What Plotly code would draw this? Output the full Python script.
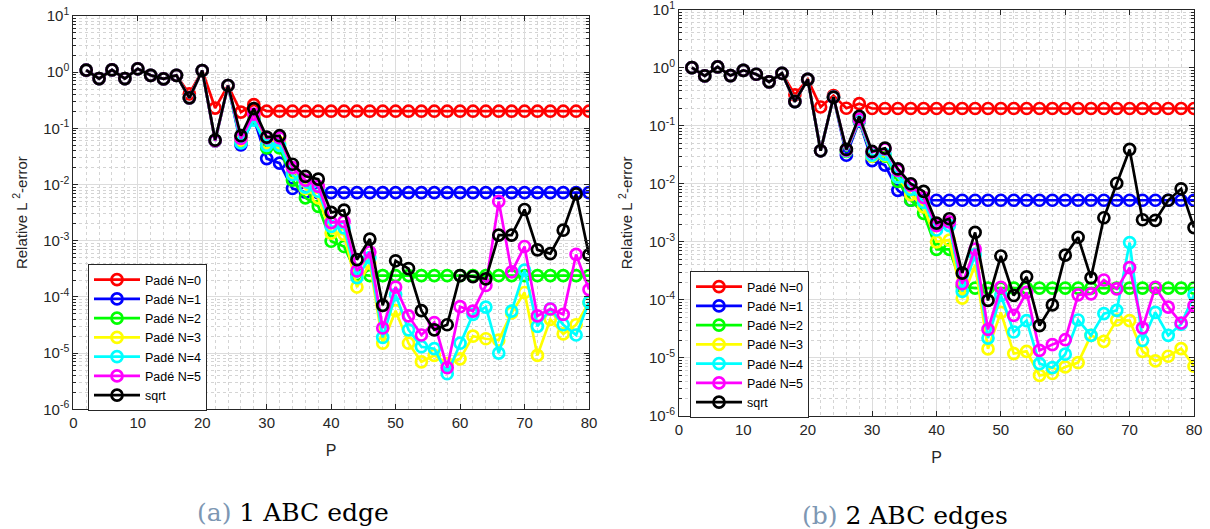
import plotly.graph_objects as go

P = list(range(2, 81, 2))

names = ["Padé N=0", "Padé N=1", "Padé N=2", "Padé N=3", "Padé N=4", "Padé N=5", "sqrt"]
colors = ["#ff0000", "#0000ff", "#00ff00", "#ffff00", "#00ffff", "#ff00ff", "#000000"]

# ---------------- (a) 1 ABC edge ----------------
a_n0 = [1.09, 0.77, 1.1, 0.77, 1.15, 0.88, 0.76, 0.88, 0.41, 1.07, 0.23, 0.58, 0.195, 0.265,
        0.202, 0.202, 0.202, 0.202, 0.202, 0.202, 0.202, 0.202, 0.202, 0.202, 0.202, 0.202, 0.202,
        0.202, 0.202, 0.202, 0.202, 0.202, 0.202, 0.202, 0.202, 0.202, 0.202, 0.202, 0.202, 0.202]
a_n1 = [1.09, 0.77, 1.1, 0.77, 1.15, 0.88, 0.76, 0.88, 0.35, 1.07, 0.06, 0.58, 0.051, 0.15,
        0.029, 0.024, 0.0085, 0.0073, 0.0072, 0.0072, 0.0072, 0.0072, 0.0072, 0.0072, 0.0072, 0.0072,
        0.0072, 0.0072, 0.0072, 0.0072, 0.0072, 0.0072, 0.0072, 0.0072, 0.0072, 0.0072, 0.0072, 0.0072,
        0.0072, 0.0072]
a_n2 = [1.09, 0.77, 1.1, 0.77, 1.15, 0.88, 0.76, 0.88, 0.35, 1.07, 0.06, 0.58, 0.058, 0.155,
        0.045, 0.045, 0.012, 0.0058, 0.0041, 0.00098, 0.00079, 0.00025, 0.00024, 0.00024, 0.00024,
        0.00024, 0.00024, 0.00024, 0.00024, 0.00024, 0.00024, 0.00024, 0.00024, 0.00024, 0.00024,
        0.00024, 0.00024, 0.00024, 0.00024, 0.00024]
a_n3 = [1.09, 0.77, 1.1, 0.77, 1.15, 0.88, 0.76, 0.88, 0.35, 1.07, 0.06, 0.58, 0.062, 0.165,
        0.055, 0.055, 0.016, 0.0085, 0.0058, 0.00137, 0.0013, 0.00015, 0.0004, 1.5e-5, 5.7e-5,
        1.5e-5, 7.0e-6, 9.1e-6, 6.5e-6, 7.9e-6, 2.0e-5, 1.8e-5, 1.7e-5, 5.2e-5, 1.2e-4, 9.1e-6,
        4.0e-5, 2.2e-5, 3.2e-5, 7.9e-5]
a_n4 = [1.09, 0.77, 1.1, 0.77, 1.15, 0.88, 0.76, 0.88, 0.35, 1.07, 0.06, 0.58, 0.055, 0.14,
        0.05, 0.05, 0.015, 0.009, 0.0076, 0.0018, 0.0017, 2.2e-4, 5e-4, 1.9e-5, 1.1e-4, 2.6e-5,
        1.3e-5, 1.2e-5, 4.3e-6, 1.5e-5, 4.9e-5, 6.6e-5, 1.0e-5, 5.6e-5, 3.0e-4, 3.0e-5, 6.1e-5,
        3.2e-5, 2.1e-5, 8.1e-5]
a_n5 = [1.09, 0.77, 1.1, 0.77, 1.15, 0.88, 0.76, 0.88, 0.35, 1.07, 0.06, 0.58, 0.066, 0.18,
        0.068, 0.068, 0.02, 0.012, 0.0093, 0.0021, 0.0022, 2.9e-4, 6.3e-4, 2.8e-5, 1.5e-4, 4.6e-5,
        2.1e-5, 3.5e-5, 5.5e-6, 6.7e-5, 5.6e-5, 1.6e-4, 5.0e-3, 2.8e-4, 7.9e-4, 4.6e-5, 6.1e-5,
        4.9e-5, 5.7e-4, 1.35e-4]
a_sqrt = [1.09, 0.77, 1.1, 0.77, 1.15, 0.88, 0.76, 0.88, 0.35, 1.07, 0.062, 0.58, 0.074, 0.225,
          0.07, 0.074, 0.023, 0.014, 0.0125, 0.0032, 0.0035, 4.6e-4, 1.07e-3, 7.1e-5, 4.4e-4,
          3.2e-4, 5.7e-5, 2.6e-5, 3.2e-5, 2.4e-4, 2.3e-4, 2.1e-4, 1.26e-3, 1.26e-3, 3.6e-3, 6.9e-4,
          5.9e-4, 1.54e-3, 6.8e-3, 5.6e-4]

# ---------------- (b) 2 ABC edges ----------------
b_n0 = [1.0, 0.72, 1.03, 0.73, 0.9, 0.77, 0.57, 0.8, 0.34, 0.63, 0.21, 0.33, 0.2, 0.24,
        0.198, 0.198, 0.198, 0.198, 0.198, 0.198, 0.198, 0.198, 0.198, 0.198, 0.198, 0.198, 0.198,
        0.198, 0.198, 0.198, 0.198, 0.198, 0.198, 0.198, 0.198, 0.198, 0.198, 0.198, 0.198, 0.198]
b_n1 = [1.0, 0.72, 1.03, 0.73, 0.9, 0.77, 0.57, 0.8, 0.26, 0.63, 0.037, 0.31, 0.031, 0.12,
        0.025, 0.021, 0.0077, 0.0052, 0.0052, 0.0052, 0.0052, 0.0052, 0.0052, 0.0052, 0.0052,
        0.0052, 0.0052, 0.0052, 0.0052, 0.0052, 0.0052, 0.0052, 0.0052, 0.0052, 0.0052, 0.0052,
        0.0052, 0.0052, 0.0052, 0.0052]
b_n2 = [1.0, 0.72, 1.03, 0.73, 0.9, 0.77, 0.57, 0.8, 0.26, 0.63, 0.037, 0.31, 0.036, 0.125,
        0.03, 0.03, 0.011, 0.0052, 0.0031, 7.4e-4, 7.4e-4, 1.7e-4, 1.6e-4, 1.6e-4, 1.6e-4, 1.6e-4,
        1.6e-4, 1.6e-4, 1.6e-4, 1.6e-4, 1.6e-4, 1.6e-4, 1.6e-4, 1.6e-4, 1.6e-4, 1.6e-4, 1.6e-4,
        1.6e-4, 1.6e-4, 1.6e-4]
b_n3 = [1.0, 0.72, 1.03, 0.73, 0.9, 0.77, 0.57, 0.8, 0.26, 0.63, 0.037, 0.31, 0.037, 0.125,
        0.03, 0.031, 0.013, 0.0065, 0.004, 1.0e-3, 1.07e-3, 1.07e-4, 4e-4, 1.43e-5, 6.1e-5,
        1.19e-5, 1.3e-5, 5.0e-6, 5.4e-6, 7.0e-6, 8.3e-6, 2.45e-5, 1.93e-5, 4.5e-5, 4.4e-5, 1.3e-5,
        8.9e-6, 1.07e-5, 1.45e-5, 7.2e-6]
b_n4 = [1.0, 0.72, 1.03, 0.73, 0.9, 0.77, 0.57, 0.8, 0.26, 0.63, 0.037, 0.31, 0.037, 0.125,
        0.031, 0.032, 0.013, 0.008, 0.0048, 1.6e-3, 1.9e-3, 1.4e-4, 6e-4, 2.2e-5, 1.2e-4, 2.8e-5,
        4.4e-5, 8.0e-6, 6.8e-6, 1.16e-5, 4.5e-5, 2.45e-5, 5.8e-5, 6.6e-5, 9.7e-4, 2.0e-5, 6.1e-5,
        2.45e-5, 3.8e-5, 1.22e-4]
b_n5 = [1.0, 0.72, 1.03, 0.73, 0.9, 0.77, 0.57, 0.8, 0.26, 0.63, 0.037, 0.31, 0.038, 0.13,
        0.035, 0.04, 0.017, 0.0095, 0.0058, 1.9e-3, 2.2e-3, 1.9e-4, 7.5e-4, 3.1e-5, 1.65e-4, 5.4e-5,
        1.35e-4, 1.35e-5, 1.7e-5, 2.06e-5, 1.22e-4, 1.27e-4, 2.2e-4, 1.55e-4, 3.6e-4, 3.3e-5,
        1.65e-4, 7.5e-5, 4.0e-5, 8.0e-5]
b_sqrt = [1.0, 0.72, 1.03, 0.73, 0.9, 0.77, 0.57, 0.8, 0.26, 0.63, 0.037, 0.31, 0.039, 0.145,
          0.036, 0.041, 0.018, 0.01, 0.0074, 2.1e-3, 2.5e-3, 2.9e-4, 1.45e-3, 9.8e-5, 5.7e-4,
          1.19e-4, 2.5e-4, 3.6e-5, 8.2e-5, 5.9e-4, 1.2e-3, 2.4e-4, 2.6e-3, 0.0102, 0.039, 2.4e-3,
          2.35e-3, 5.2e-3, 8.2e-3, 1.76e-3]

series_a = [a_n0, a_n1, a_n2, a_n3, a_n4, a_n5, a_sqrt]
series_b = [b_n0, b_n1, b_n2, b_n3, b_n4, b_n5, b_sqrt]

ytick_vals = [1e-6, 1e-5, 1e-4, 1e-3, 1e-2, 1e-1, 1e0, 1e1]
ytick_text = ["10<sup>-6</sup>", "10<sup>-5</sup>", "10<sup>-4</sup>", "10<sup>-3</sup>",
              "10<sup>-2</sup>", "10<sup>-1</sup>", "10<sup>0</sup>", "10<sup>1</sup>"]
xtick_vals = [0, 10, 20, 30, 40, 50, 60, 70, 80]

W, H = 1210, 529
fig = go.Figure()

for i, (nm, c) in enumerate(zip(names, colors)):
    fig.add_trace(go.Scatter(x=P, y=series_a[i], name=nm, mode="lines+markers",
                             line=dict(color=c, width=2.7),
                             marker=dict(symbol="circle-open", size=11, line=dict(color=c, width=2.7)),
                             xaxis="x", yaxis="y", legend="legend"))
for i, (nm, c) in enumerate(zip(names, colors)):
    fig.add_trace(go.Scatter(x=P, y=series_b[i], name=nm, mode="lines+markers",
                             line=dict(color=c, width=2.7),
                             marker=dict(symbol="circle-open", size=11, line=dict(color=c, width=2.7)),
                             xaxis="x2", yaxis="y2", legend="legend2"))

axcol = "#262626"
fam = "Liberation Sans, Arial, sans-serif"
tickfont = dict(family=fam, size=15, color=axcol)

def xax(domain, anchor):
    return dict(domain=domain, anchor=anchor, range=[0, 80], tickvals=xtick_vals,
                showline=True, linecolor=axcol, linewidth=1, mirror="allticks",
                ticks="inside", ticklen=5, tickcolor=axcol, tickfont=tickfont,
                ticklabeloverflow="allow",
                showgrid=True, gridcolor="#dcdcdc", gridwidth=1, zeroline=False,
                minor=dict(dtick=2, showgrid=True, gridcolor="#d4d4d4", griddash="dot", ticks=""),
                title=dict(text="P", font=dict(family=fam, size=16, color=axcol), standoff=14),
                automargin=False)

def yax(domain, anchor):
    return dict(domain=domain, anchor=anchor, type="log", range=[-6, 1],
                tickvals=ytick_vals, ticktext=ytick_text,
                showline=True, linecolor=axcol, linewidth=1, mirror="allticks",
                ticks="inside", ticklen=5, tickcolor=axcol, tickfont=tickfont,
                ticklabeloverflow="allow",
                showgrid=True, gridcolor="#dcdcdc", gridwidth=1, zeroline=False,
                minor=dict(dtick="D1", showgrid=True, gridcolor="#d4d4d4", griddash="dot",
                           ticks="inside", ticklen=3, tickcolor=axcol),
                title=dict(text="Relative L <sup>2</sup>-error",
                           font=dict(family=fam, size=15, color=axcol), standoff=12),
                automargin=False)

legstyle = dict(bgcolor="white", bordercolor=axcol, borderwidth=1,
                font=dict(family=fam, size=12.5, color="#000000"),
                xanchor="left", yanchor="top", tracegroupgap=0, itemwidth=46)

fig.update_layout(
    width=W, height=H, margin=dict(l=0, r=0, t=0, b=0),
    paper_bgcolor="white", plot_bgcolor="white",
    xaxis=xax([73.3 / W, 589 / W], "y"),
    yaxis=yax([1 - 409.3 / H, 1 - 16 / H], "x"),
    xaxis2=xax([679 / W, 1194 / W], "y2"),
    yaxis2=yax([1 - 416 / H, 1 - 9.6 / H], "x2"),
    legend=dict(x=88 / W, y=1 - 264 / H, **legstyle),
    legend2=dict(x=690 / W, y=1 - 271 / H, **legstyle),
    showlegend=True,
    annotations=[
        dict(text="<span style='color:#7d97b3'>(a)</span> 1 ABC edge", x=293 / W, y=1 - 512 / H,
             xref="paper", yref="paper", showarrow=False, xanchor="center", yanchor="middle",
             font=dict(family="DejaVu Serif, Liberation Serif, serif", size=25, color="#000000")),
        dict(text="<span style='color:#7d97b3'>(b)</span> 2 ABC edges", x=905 / W, y=1 - 515 / H,
             xref="paper", yref="paper", showarrow=False, xanchor="center", yanchor="middle",
             font=dict(family="DejaVu Serif, Liberation Serif, serif", size=25, color="#000000")),
    ],
)

fig.write_html("out.html")
